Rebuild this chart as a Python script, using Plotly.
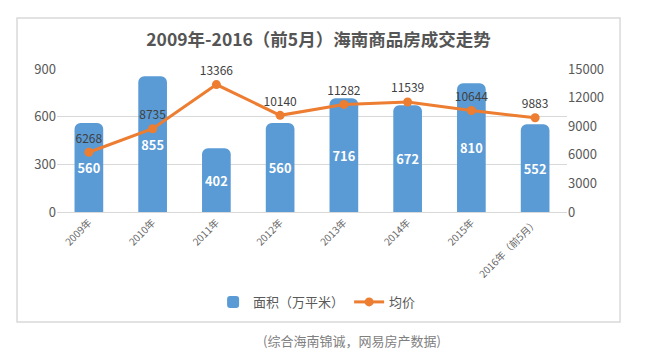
import plotly.graph_objects as go

categories = ["2009年", "2010年", "2011年", "2012年", "2013年", "2014年", "2015年", "2016年（前5月）"]
area_values = [560, 855, 402, 560, 716, 672, 810, 552]
price_values = [6268, 8735, 13366, 10140, 11282, 11539, 10644, 9883]
left_ticks = [0, 300, 600, 900]
right_ticks = [0, 3000, 6000, 9000, 12000, 15000]

FONT = "Noto Sans CJK SC"
GRAY = "#595959"

fig = go.Figure()
fig.add_trace(go.Bar(
    x=categories, y=area_values, name="面积（万平米）",
    marker=dict(color="#5B9BD5", line=dict(width=0)),
    text=[str(v) for v in area_values], textposition="inside",
    insidetextanchor="middle", textangle=0,
    textfont=dict(color="white", size=14, family=FONT, weight="bold"),
    yaxis="y",
))
fig.add_trace(go.Scatter(
    x=categories, y=price_values, name="均价", mode="lines+markers+text",
    line=dict(color="#ED7D31", width=3),
    marker=dict(color="#ED7D31", size=9),
    text=[str(v) for v in price_values], textposition="top center",
    textfont=dict(color="#404040", size=12, family=FONT),
    cliponaxis=False,
    yaxis="y2",
))

fig.update_layout(
    width=650, height=363,
    margin=dict(l=57, r=83, t=69, b=151, autoexpand=False),
    paper_bgcolor="white", plot_bgcolor="white",
    font=dict(family=FONT, color=GRAY),
    bargap=0.55,
    barcornerradius=6,
    title=dict(text="<b>2009年-2016（前5月）海南商品房成交走势</b>",
               x=0.49, xanchor="center", y=1 - 40 / 363, yanchor="middle",
               font=dict(size=17.5, color="#555555", family=FONT)),
    xaxis=dict(tickangle=-45, tickfont=dict(size=10, color="#666666"),
               showgrid=False, showline=True, linecolor="#D9D9D9", ticks="",
               automargin=False),
    yaxis=dict(range=[0, 900], tickvals=left_ticks, showgrid=True,
               gridcolor="#D9D9D9", zeroline=False, automargin=False,
               tickfont=dict(size=13, color=GRAY), ticks=""),
    yaxis2=dict(range=[0, 15000], tickvals=right_ticks,
                ticktext=[str(v) for v in right_ticks], overlaying="y",
                side="right", showgrid=False, zeroline=False, automargin=False,
                tickfont=dict(size=13, color=GRAY), ticks=""),
    legend=dict(orientation="h", x=0.51, xanchor="center", y=-0.629,
                yanchor="middle", font=dict(size=13, color=GRAY),
                bgcolor="rgba(0,0,0,0)"),
    showlegend=True,
    shapes=[dict(type="rect", xref="paper", yref="paper",
                 x0=-0.0784, x1=1.104, y0=-0.769, y1=1.357,
                 line=dict(color="#D9D9D9", width=1.5), layer="below")],
    annotations=[dict(text="(综合海南锦诚，网易房产数据)", xref="paper", yref="paper",
                      x=0.578, y=-0.902, xanchor="center", yanchor="middle",
                      showarrow=False, font=dict(size=13, color="#808080"))],
)

fig.write_html("out.html", config={"displayModeBar": False},
               post_script="document.body.style.margin='0';document.body.style.overflow='hidden';")
